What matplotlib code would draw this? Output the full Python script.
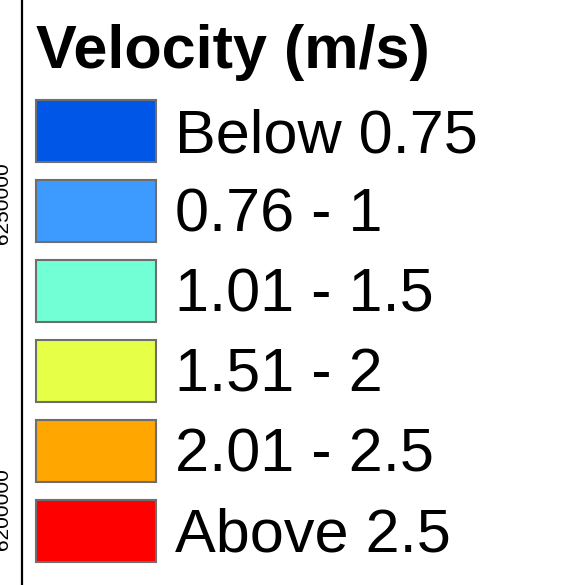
import matplotlib.pyplot as plt
from matplotlib.patches import Patch

# ── Legend data ──
legend_title = "Velocity (m/s)"
class_labels = ["Below 0.75", "0.76 - 1", "1.01 - 1.5", "1.51 - 2", "2.01 - 2.5", "Above 2.5"]
class_colors = ["#0056E6", "#3D9BFF", "#73FFD5", "#E6FF47", "#FFA600", "#FF0000"]

# Y-axis (northing) ticks of the map frame, mostly cut off at the left edge
northing_ticks = [6200000, 6250000]
northing_lim = (6187600, 6283200)

FONT = "Liberation Sans"

fig = plt.figure(figsize=(5.73, 5.85), dpi=100)
fig.patch.set_facecolor("white")

# ── Map frame: only the left border with rotated tick labels ──
ax = fig.add_axes([21.5 / 573, 0, 0.5, 1])
ax.set_ylim(*northing_lim)
ax.set_yticks(northing_ticks)
ax.set_yticklabels([str(v) for v in northing_ticks], rotation=90, va="center",
                   fontsize=15, family=FONT)
ax.tick_params(axis="y", length=0, pad=7)
ax.set_xticks([])
for side in ("top", "right", "bottom"):
    ax.spines[side].set_visible(False)
ax.spines["left"].set_linewidth(1.6)
ax.patch.set_alpha(0)

# ── Legend ──
handles = [Patch(facecolor=c, edgecolor="#6E6E6E", linewidth=1.5, label=l)
           for c, l in zip(class_colors, class_labels)]
leg = fig.legend(handles=handles, title=legend_title, loc="upper left",
                 bbox_to_anchor=(36 / 573, 1 - 24 / 585), frameon=False,
                 prop={"family": FONT, "size": 44},
                 title_fontproperties={"family": FONT, "size": 44, "weight": "bold"},
                 alignment="left", handlelength=1.97, handleheight=1.18,
                 handletextpad=0.3, labelspacing=0.25, borderpad=0, borderaxespad=0)
# a bit more room between the title and the first entry
leg._legend_box.sep += 3.0

fig.savefig("out.png", dpi=100, facecolor="white")
